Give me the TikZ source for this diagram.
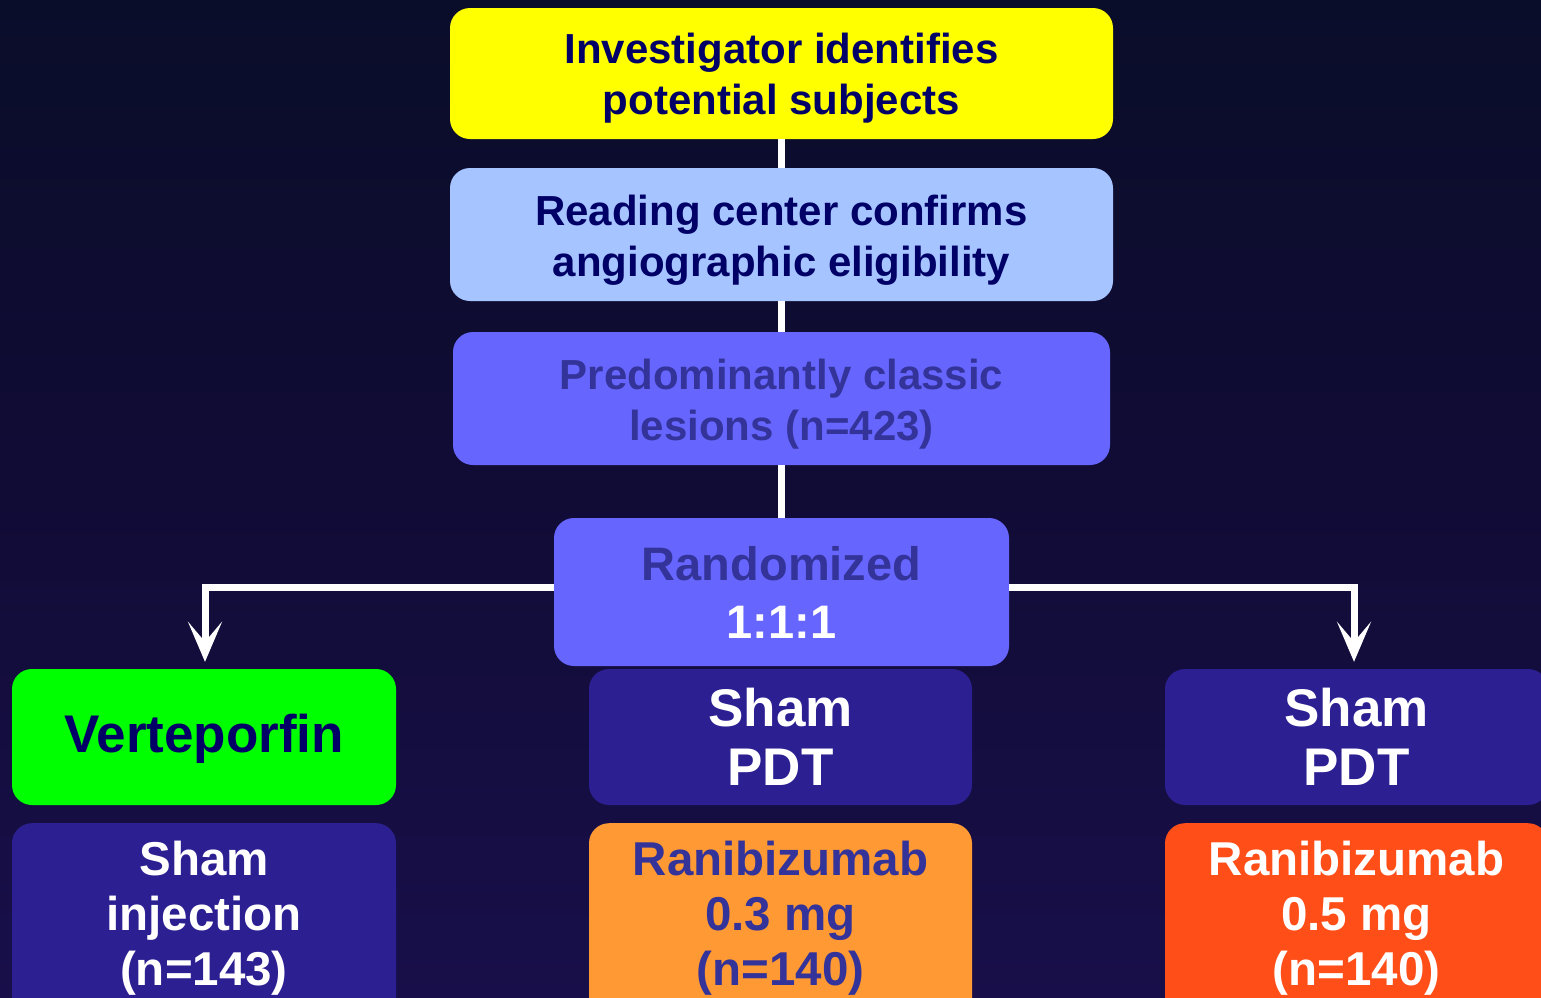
\documentclass[tikz,border=0pt]{standalone}
\usepackage{fontspec}
\setmainfont{Liberation Sans}
\usetikzlibrary{arrows.meta}
\definecolor{bgtop}{HTML}{0A0D2A}
\definecolor{bgmid}{HTML}{110C36}
\definecolor{bgbot}{HTML}{180F4A}
\definecolor{navy}{HTML}{000066}
\definecolor{midblue}{HTML}{333399}
\definecolor{ltblue}{HTML}{A6C4FF}
\definecolor{violet}{HTML}{6666FF}
\definecolor{darkbox}{HTML}{2C1F92}
\definecolor{brightgreen}{HTML}{00FF00}
\definecolor{pureyellow}{HTML}{FFFF00}
\definecolor{orange}{HTML}{FF9933}
\definecolor{redorange}{HTML}{FF4E17}
\tikzset{
  panel/.style={rounded corners=20pt, inner sep=0pt, align=center},
  topfont/.style={font=\bfseries\fontsize{42}{51}\selectfont},
  randfont/.style={font=\bfseries\fontsize{47}{58}\selectfont},
  midfont/.style={font=\bfseries\fontsize{53}{59}\selectfont},
  lowfont/.style={font=\bfseries\fontsize{47.5}{55}\selectfont},
  boxtext/.style={align=center, inner sep=0pt},
  conn/.style={draw=white, line width=7pt},
  arr/.style={conn, -{Stealth[length=40pt,width=34pt,inset=20pt]}, shorten >=7pt}
}
\begin{document}
\begin{tikzpicture}[x=1pt,y=-1pt]
\useasboundingbox (0,0) rectangle (1541,997);
\clip (0,0) rectangle (1541,997);
\shade[top color=bgtop, bottom color=bgbot, middle color=bgmid] (0,0) rectangle (1541,997);

% top chain
\node[panel, fill=pureyellow, minimum width=663pt, minimum height=131pt,
  label={[boxtext, topfont, text=navy, yshift=-5pt]center:Investigator identifies\\potential subjects}] (ident) at (781.5,73.5) {};
\node[panel, fill=ltblue, minimum width=663pt, minimum height=133pt,
  label={[boxtext, topfont, text=navy, yshift=-6pt]center:Reading center confirms\\angiographic eligibility}] (read) at (781.5,234.5) {};
\node[panel, fill=violet, minimum width=657pt, minimum height=133pt,
  label={[boxtext, topfont, text=midblue, yshift=-6pt]center:Predominantly classic\\lesions (n=423)}] (pred) at (781.5,398.5) {};
\node[panel, randfont, fill=violet, minimum width=455pt, minimum height=148pt] (rand) at (781.5,592) {\color{midblue}Randomized\\\color{white}1:1:1};

% middle row
\node[panel, fill=brightgreen, minimum width=384pt, minimum height=136pt,
  label={[boxtext, midfont, text=navy, yshift=-2pt]center:Verteporfin}] (verte) at (204,737) {};
\node[panel, midfont, fill=darkbox, text=white, minimum width=383pt, minimum height=136pt] (sham1) at (780.5,737) {Sham\\PDT};
\node[panel, midfont, fill=darkbox, text=white, minimum width=383pt, minimum height=136pt] (sham2) at (1356.5,737) {Sham\\PDT};

% bottom row
\node[panel, fill=darkbox, minimum width=384pt, minimum height=240pt, anchor=north] (inj) at (204,823) {};
\node[panel, fill=orange, minimum width=383pt, minimum height=240pt, anchor=north] (ran1) at (780.5,823) {};
\node[panel, fill=redorange, minimum width=383pt, minimum height=240pt, anchor=north] (ran2) at (1356.5,823) {};
\node[boxtext, lowfont, text=white] (injtxt) at (204,918) {Sham\\injection\\(n=143)};
\node[boxtext, lowfont, text=midblue] (ran1txt) at (780.5,918) {Ranibizumab\\0.3 mg\\(n=140)};
\node[boxtext, lowfont, text=white] (ran2txt) at (1356.5,918) {Ranibizumab\\0.5 mg\\(n=140)};

% connectors
\draw[conn] (ident.south) -- (read.north);
\draw[conn] (read.south) -- (pred.north);
\draw[conn] (pred.south) -- (rand.north);
\draw[arr] ([yshift=5pt]rand.west) -| ([xshift=1pt]verte.north);
\draw[arr] ([yshift=5pt]rand.east) -| ([xshift=-2.5pt]sham2.north);
\end{tikzpicture}
\end{document}
